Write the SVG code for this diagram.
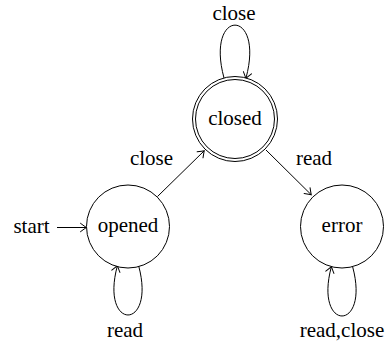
<svg xmlns="http://www.w3.org/2000/svg" width="388" height="341" viewBox="0 0 388 341">
  <defs>
    <marker id="to" markerUnits="userSpaceOnUse" markerWidth="14" markerHeight="14" refX="0" refY="0" viewBox="-8 -7 10 14" orient="auto" overflow="visible">
      <path d="M -5.5,-4.2 Q -1.2,-1 0.4,0 Q -1.2,1 -5.5,4.2" fill="none" stroke="#000" stroke-width="1" stroke-linecap="round"/>
    </marker>
  </defs>
  <style>
    .state { fill: #fff; stroke: #000; stroke-width: 1; }
    .edge { fill: none; stroke: #000; stroke-width: 1; marker-end: url(#to); }
    .lbl { font-family: 'Liberation Serif', 'Times New Roman', 'DejaVu Serif', serif; font-size: 21px; fill: #000; text-anchor: middle; }
  </style>

  <!-- transitions -->
  <g id="connectors">
    <path class="edge" d="M 57,227.5 L 86,227.5"/>
    <path class="edge" d="M 157.5,196.5 L 204,151"/>
    <path class="edge" d="M 266,150 L 311,194.5"/>
    <!-- self loops -->
    <path class="edge" d="M 224,78 C 205,7.5 265,7.5 246,78"/>
    <path class="edge" d="M 138.7,266 C 156.2,331.3 99.8,331.3 117.3,266"/>
    <path class="edge" d="M 352.7,267 C 370.2,332.3 313.8,332.3 331.3,267"/>
  </g>

  <!-- edge labels -->
  <g id="labels" font-family="Liberation Serif, serif">
    <text class="lbl" x="31.5" y="233">start</text>
    <text class="lbl" x="234" y="20">close</text>
    <text class="lbl" x="151.5" y="165">close</text>
    <text class="lbl" x="314" y="165">read</text>
    <text class="lbl" x="125" y="337">read</text>
    <text class="lbl" x="342" y="337">read,close</text>
  </g>

  <g id="opened">
    <circle class="state" cx="128" cy="226.5" r="41.5"/>
    <text class="lbl" x="128" y="232">opened</text>
  </g>

  <g id="closed">
    <circle class="state" cx="235" cy="119" r="42.5"/>
    <circle class="state" cx="235" cy="119" r="39.5"/>
    <text class="lbl" x="235" y="125">closed</text>
  </g>

  <g id="error">
    <circle class="state" cx="342" cy="226.5" r="41.5"/>
    <text class="lbl" x="342" y="232">error</text>
  </g>
</svg>
